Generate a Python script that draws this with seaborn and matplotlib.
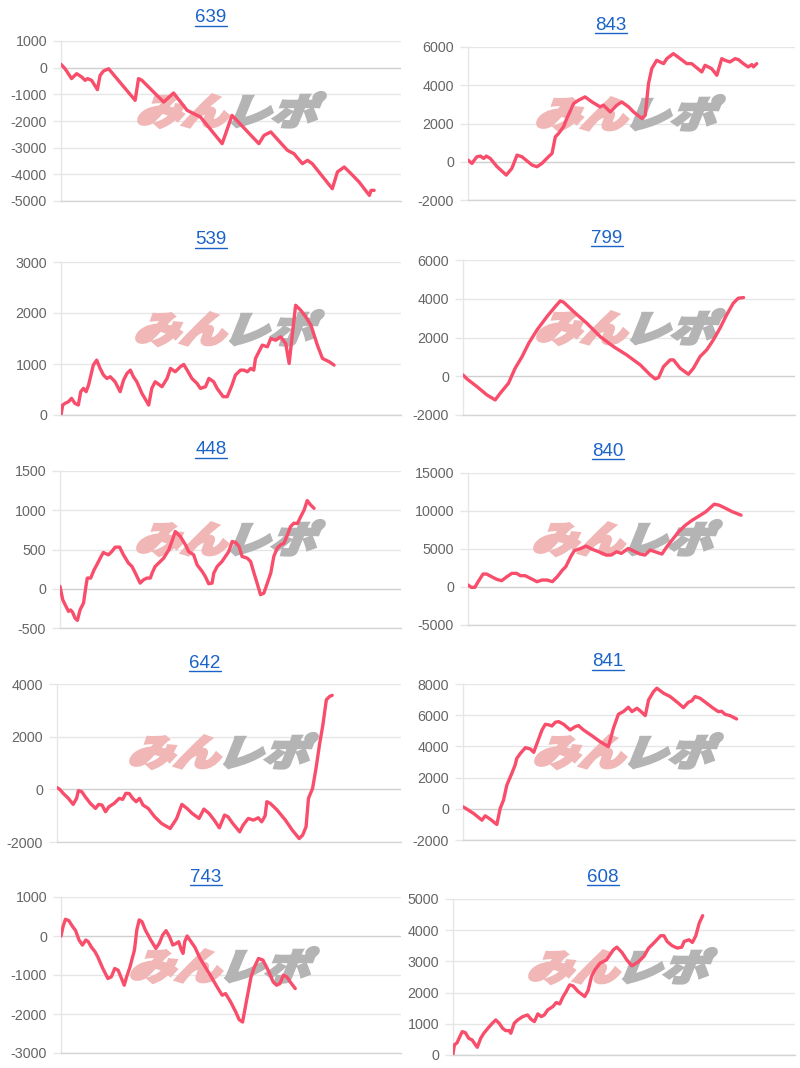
import matplotlib
matplotlib.use("Agg")
import matplotlib.pyplot as plt
import seaborn as sns
import pandas as pd
from matplotlib.textpath import TextPath
from matplotlib.patches import PathPatch
from matplotlib.font_manager import FontProperties
from matplotlib.transforms import Affine2D, IdentityTransform
from matplotlib.lines import Line2D

# ---------------- data ----------------
titles = ["639", "843", "539", "799", "448", "840", "642", "841", "743", "608"]

x_639 = [0,1.2,3.1,4.6,6.1,7.1,7.8,9.0,10.7,11.5,12.5,14.0,21.8,22.8,23.8,30.2,33.1,37.1,41.0,47.4,50.3,58.2,59.7,61.7,66.6,68.5,71.0,72.5,73.9,79.8,81.3,83.3,85.3,87.7,90.7,91.2,92.1]
y_639 = [125,-40,-410,-225,-350,-475,-410,-475,-825,-290,-125,-40,-1225,-410,-475,-1290,-950,-1600,-1850,-2850,-1790,-2850,-2540,-2410,-3100,-3225,-3600,-3475,-3600,-4540,-3910,-3725,-3975,-4290,-4790,-4600,-4600]

x_843 = [0,1.2,2.7,3.8,4.8,5.6,6.8,8.9,11.7,13.4,15.0,16.5,19.6,21.1,22.6,24.6,25.7,26.7,27.7,29.2,30.2,32.3,33.8,35.8,37.9,40.4,41.4,43.5,45.5,47.0,49.1,50.6,53.2,54.2,55.2,56.2,57.7,59.8,60.8,62.8,64.9,66.9,68.4,71.5,72.5,74.5,76.1,77.6,78.6,80.1,81.7,82.7,84.2,85.7,86.8,87.3,88.3]
y_843 = [87,-87,260,296,174,296,174,-260,-696,-350,348,261,-174,-260,-87,261,435,1300,1478,1826,2260,3043,3217,3391,3130,2870,2957,2609,2957,3130,2870,2609,2260,2435,4087,4870,5304,5130,5391,5652,5391,5130,5130,4696,5043,4870,4522,5391,5304,5217,5391,5340,5130,4957,5080,4960,5130]

x_539 = [0,0.5,1.2,2.2,3.1,4.1,5.1,5.8,6.6,7.4,8.1,9.5,10.5,11.5,12.5,13.5,14.5,15.9,17.4,18.4,19.4,20.4,21.3,22.3,23.8,25.8,26.7,27.7,29.7,31.2,32.2,33.6,35.1,36.1,37.1,38.5,40.0,41.0,42.5,43.5,44.9,45.9,47.7,48.9,50.3,51.3,52.8,53.8,54.8,55.8,56.7,57.2,58.2,59.2,60.7,61.7,63.1,64.6,66.1,67.1,69.0,70.5,72.0,73.5,75.4,76.9,77.9,78.9,80.3]
y_539 = [0,196,228,261,326,228,196,457,522,457,587,978,1076,913,783,717,750,652,457,685,815,880,750,652,424,196,522,652,554,717,913,848,946,991,880,717,620,522,554,717,652,522,359,359,587,783,880,880,848,913,880,1109,1239,1370,1337,1500,1467,1533,1402,1011,2152,2054,1924,1761,1370,1109,1076,1044,978]

x_799 = [0,1.2,4.2,7.2,9.7,11.2,13.7,15.7,17.8,19.8,22.3,25.3,27.8,29.3,30.3,33.3,37.3,41.3,45.3,49.3,53.4,56.4,57.9,58.9,60.4,62.4,63.4,65.4,67.9,69.4,71.4,73.4,75.4,77.4,79.4,81.4,82.9,84.5]
y_799 = [69,-138,-534,-964,-1222,-878,-361,413,1015,1704,2392,3081,3597,3890,3821,3339,2737,2048,1532,1101,585,69,-138,-69,499,843,843,413,103,413,1015,1360,1876,2478,3167,3769,4027,4062]

x_448 = [0,0.8,1.5,2.5,3.1,3.7,4.4,5.1,5.9,6.9,7.6,8.0,9.0,10.0,10.8,11.8,12.7,14.2,15.2,16.2,17.5,18.6,20.1,21.1,22.1,23.5,24.5,25.5,26.5,27.0,27.9,29.4,30.4,31.9,32.8,33.8,35.3,36.8,37.7,39.2,40.2,41.7,42.6,43.6,44.6,45.1,46.1,47.5,48.5,49.5,50.5,51.5,52.5,53.4,54.9,55.9,56.9,57.8,58.8,59.8,60.8,61.8,62.7,63.7,64.7,65.7,66.7,67.6,68.6,69.6,70.6,71.6,72.5,73.5,74.5]
y_448 = [30,-140,-203,-288,-270,-301,-373,-403,-267,-182,30,136,136,242,305,390,462,432,475,530,530,432,326,284,199,72,114,136,136,199,284,347,390,496,602,729,665,559,475,432,305,220,157,64,72,199,284,347,411,475,602,589,538,411,390,347,199,72,-76,-55,72,199,411,517,559,581,687,792,835,830,919,1004,1123,1068,1025]

x_840 = [0,1.0,2.1,3.1,4.6,5.7,7.2,8.8,10.3,11.9,13.4,14.9,16.0,17.5,19.1,21.1,22.7,24.2,25.8,27.3,28.9,29.9,31.4,32.5,34.5,36.1,38.1,40.7,42.3,43.8,45.4,46.9,49.0,50.5,52.6,54.1,55.7,57.2,59.3,60.8,62.4,64.4,66.5,68.6,70.6,72.7,75.3,76.8,78.9,80.9,83.5]
y_840 = [263,-44,-44,700,1707,1707,1357,1007,832,1357,1794,1794,1488,1488,1138,700,919,919,700,1357,2232,2670,3982,4770,5077,5383,4945,4508,4201,4201,4639,4420,5077,4770,4333,4201,4858,4639,4333,5295,6171,7265,8140,8797,9322,9891,10897,10766,10328,9891,9453]

x_642 = [0,0.8,1.8,3.3,4.7,5.7,6.2,7.2,8.2,9.7,11.2,12.1,13.1,14.1,15.1,16.6,18.1,19.1,20.0,21.0,22.0,23.0,24.0,25.0,26.5,28.4,30.4,32.9,34.8,36.3,37.8,39.3,41.3,42.7,44.2,45.7,47.2,48.7,49.7,51.1,53.1,54.1,55.6,57.1,58.5,59.5,60.5,61.0,62.0,64.0,66.4,68.4,70.4,71.4,72.4,73.1,74.3,75.3,76.3,77.3,78.3,79.3,80.0]
y_642 = [64,0,-152,-343,-572,-343,-51,-89,-280,-534,-724,-572,-600,-851,-661,-534,-343,-381,-152,-160,-343,-470,-343,-597,-724,-1042,-1296,-1487,-1105,-572,-724,-915,-1105,-750,-915,-1169,-1461,-978,-1042,-1296,-1614,-1360,-1105,-1169,-1080,-1233,-1004,-470,-534,-788,-1169,-1550,-1868,-1741,-1423,-343,38,801,1690,2452,3405,3532,3570]

x_841 = [0,1.2,3.2,5.7,6.7,8.2,10.2,11.2,12.2,13.2,14.7,15.7,16.2,17.3,18.8,20.3,21.3,22.3,23.8,24.8,25.8,26.8,27.8,28.8,30.3,32.3,33.8,34.8,36.3,38.8,41.3,43.8,45.3,46.8,48.3,49.8,50.9,52.4,53.4,54.9,55.9,57.4,58.4,60.4,62.4,64.9,66.4,67.9,68.9,69.9,71.4,73.4,75.4,76.9,77.9,78.9,80.4,82.4]
y_841 = [128,-21,-300,-728,-450,-664,-1006,21,557,1520,2270,2805,3233,3555,3919,3833,3619,4197,5054,5418,5380,5310,5546,5589,5418,5054,5268,5332,5054,4690,4304,3983,5161,6060,6231,6510,6231,6445,6274,5975,6981,7516,7730,7409,7195,6767,6488,6831,6916,7195,7088,6767,6445,6231,6250,6060,5975,5760]

x_743 = [0,0.6,1.3,2.3,3.3,4.3,5.3,6.3,7.3,8.0,9.0,10.0,10.8,12.3,13.8,14.8,15.8,16.8,17.8,18.6,19.3,20.3,21.6,22.3,23.0,23.8,24.8,26.4,27.9,28.9,29.9,30.9,31.9,32.9,33.9,34.6,35.4,35.9,36.4,37.1,37.9,39.4,40.9,42.4,43.9,45.9,47.4,48.4,49.9,51.4,52.4,53.4,54.4,55.9,56.9,58.1,59.4,60.9,62.4,63.4,64.4,65.4,66.4,67.4,68.9]
y_743 = [0,240,429,395,258,137,-103,-232,-103,-146,-292,-403,-532,-833,-1090,-1047,-833,-876,-1090,-1262,-1047,-790,-361,155,412,369,155,-103,-318,-189,26,137,-17,-232,-189,-146,-361,-446,-146,0,-103,-292,-575,-790,-1004,-1305,-1519,-1476,-1691,-1948,-2146,-2206,-1734,-1047,-790,-575,-618,-876,-1176,-1262,-1219,-1004,-1047,-1176,-1348]

x_608 = [0,0.4,1.2,2.0,2.7,3.6,4.6,5.6,6.6,7.1,8.1,9.0,10.2,11.5,12.5,13.5,14.5,15.4,16.4,16.9,17.9,18.9,20.4,21.8,22.8,23.8,24.8,25.8,26.7,27.7,29.2,30.2,31.2,32.2,33.1,34.1,35.1,36.6,38.5,39.5,40.5,41.5,43.0,44.0,44.9,45.9,46.9,47.9,49.4,50.8,52.3,53.3,54.3,55.8,57.2,58.7,60.7,61.7,62.6,64.1,65.6,66.9,67.6,69.0,70.0,71.0,72.0,73.0]
y_608 = [32,321,396,589,749,717,535,482,321,246,535,696,857,1017,1124,1017,857,782,782,696,1017,1124,1231,1285,1146,1071,1317,1231,1285,1445,1552,1681,1638,1874,2034,2248,2216,2034,1874,2066,2516,2730,2944,2998,3051,3212,3373,3458,3287,3051,2858,2923,2998,3158,3426,3587,3822,3822,3640,3501,3426,3458,3640,3694,3608,3822,4229,4465]

yticks_639 = [-5000, -4000, -3000, -2000, -1000, 0, 1000]
yticks_843 = [-2000, 0, 2000, 4000, 6000]
yticks_539 = [0, 1000, 2000, 3000]
yticks_799 = [-2000, 0, 2000, 4000, 6000]
yticks_448 = [-500, 0, 500, 1000, 1500]
yticks_840 = [-5000, 0, 5000, 10000, 15000]
yticks_642 = [-2000, 0, 2000, 4000]
yticks_841 = [-2000, 0, 2000, 4000, 6000, 8000]
yticks_743 = [-3000, -2000, -1000, 0, 1000]
yticks_608 = [0, 1000, 2000, 3000, 4000, 5000]

series_x = [x_639, x_843, x_539, x_799, x_448, x_840, x_642, x_841, x_743, x_608]
series_y = [y_639, y_843, y_539, y_799, y_448, y_840, y_642, y_841, y_743, y_608]
series_ticks = [yticks_639, yticks_843, yticks_539, yticks_799, yticks_448,
                yticks_840, yticks_642, yticks_841, yticks_743, yticks_608]

# ---------------- layout (pixels, top-down) ----------------
W, H = 800, 1068
boxes = [(61, 401, 41, 201), (468, 795, 47, 200),
         (61, 401, 262, 415), (463, 795, 260, 415),
         (60, 401, 471, 628), (468, 795, 473, 625),
         (57, 401, 684, 842), (463, 795, 684, 840),
         (61, 401, 897, 1053), (453, 795, 899, 1055)]
title_pos = [(211, 18), (611, 25), (211, 240), (607, 239), (211, 450),
             (608, 452), (205, 663), (608, 662), (206, 877), (603, 877)]
wm_center = [(232, 110), (631, 113), (230, 328), (631, 327), (231, 538),
             (628, 538), (224, 751), (629, 751), (225, 965), (623, 966)]

LINE = "#f84d6b"
TITLE = "#1a63c9"
GRID = "#e6e6e6"

sns.set_theme(style="white")
plt.rcParams["font.family"] = ["Liberation Sans", "DejaVu Sans"]

fig = plt.figure(figsize=(W / 100, H / 100), dpi=100)
fig.patch.set_facecolor("white")

fp_wm = FontProperties(family="Noto Sans CJK JP", weight="heavy")


def watermark(ax, cx, cy):
    p1 = TextPath((0, 0), "みん", size=40, prop=fp_wm)
    p2 = TextPath((0, 0), "レポ", size=40, prop=fp_wm)
    tr = Affine2D().skew_deg(18, 0).scale(1.15, 0.92)
    p1 = tr.transform_path(p1)
    p2 = tr.transform_path(p2)
    e1 = p1.get_extents()
    e2 = p2.get_extents()
    gap = 4
    total_w = e1.width + gap + e2.width
    h = max(e1.y1, e2.y1) - min(e1.y0, e2.y0)
    y0 = min(e1.y0, e2.y0)
    dy = (H - cy) - h / 2 - y0
    x_start = cx - total_w / 2
    p1 = Affine2D().translate(x_start - e1.x0, dy).transform_path(p1)
    p2 = Affine2D().translate(x_start + e1.width + gap - e2.x0, dy).transform_path(p2)
    ax.add_patch(PathPatch(p1, facecolor="#f1b6b6", edgecolor="#f1b6b6", lw=2.2,
                           joinstyle="miter", transform=IdentityTransform(),
                           zorder=1, clip_on=False))
    ax.add_patch(PathPatch(p2, facecolor="#b4b4b4", edgecolor="#b4b4b4", lw=2.2,
                           joinstyle="miter", transform=IdentityTransform(),
                           zorder=1, clip_on=False))


title_texts = []
for i in range(10):
    l, r, t, b = boxes[i]
    ax = fig.add_axes([l / W, 1 - b / H, (r - l) / W, (b - t) / H])
    xs, ys = series_x[i], series_y[i]
    assert len(xs) == len(ys)
    df = pd.DataFrame({"x": xs, "y": ys})
    ticks = series_ticks[i]
    ax.set_ylim(ticks[0], ticks[-1])
    ax.set_xlim(0, 100)
    ax.set_yticks(ticks)
    ax.set_yticklabels([str(v) for v in ticks])
    ax.set_xticks([])
    for v in ticks:
        ax.axhline(v, color=GRID if v != 0 else "#cfcfcf", lw=1.0, zorder=0.5)
    watermark(ax, *wm_center[i])
    sns.lineplot(data=df, x="x", y="y", ax=ax, color=LINE, linewidth=2.4,
                 estimator=None, sort=False, zorder=3,
                 solid_joinstyle="round", solid_capstyle="round")
    ax.set_xlabel("")
    ax.set_ylabel("")
    for s in ["top", "right"]:
        ax.spines[s].set_visible(False)
    ax.spines["left"].set_color(GRID)
    ax.spines["left"].set_linewidth(1.0)
    ax.spines["bottom"].set_color("#d5d5d5")
    ax.spines["bottom"].set_linewidth(1.0)
    ax.tick_params(axis="y", length=6, width=1.0, color=GRID,
                   labelcolor="#666666", labelsize=10.3, pad=4, left=True)
    ax.set_facecolor("none")
    tx, ty = title_pos[i]
    tt = fig.text(tx / W, 1 - ty / H, titles[i], ha="center", va="center",
                  fontsize=13.5, color=TITLE)
    title_texts.append(tt)

fig.canvas.draw()
renderer = fig.canvas.get_renderer()
for tt in title_texts:
    bb = tt.get_window_extent(renderer)
    yline = bb.y0 + 1
    fig.add_artist(Line2D([bb.x0 / W, bb.x1 / W], [yline / H, yline / H],
                          transform=fig.transFigure, color=TITLE, lw=1.0))

fig.savefig("out.png", dpi=100, facecolor="white")
